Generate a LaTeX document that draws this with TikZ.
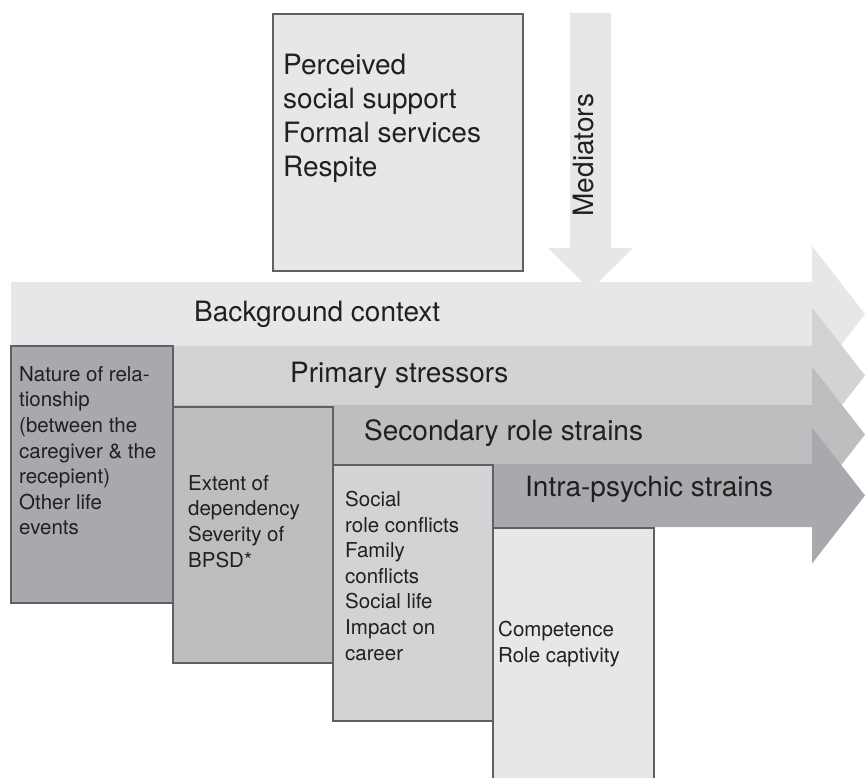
\documentclass[tikz,border=0pt]{standalone}
\usepackage{fontspec}
\setmainfont{TeX Gyre Heros}
\definecolor{gA}{HTML}{E6E7E8}
\definecolor{gB}{HTML}{D1D3D4}
\definecolor{gC}{HTML}{BCBEC0}
\definecolor{gD}{HTML}{A7A9AC}
\definecolor{edge}{HTML}{5F6062}
\definecolor{ink}{HTML}{231F20}
\tikzset{
  band/.style={draw=none},
  boxshape/.style={rectangle, draw=edge, line width=2pt, inner sep=0pt, anchor=north west},
  bigtext/.style={inner sep=0pt, align=left, text=ink, font=\fontsize{28}{34}\selectfont},
  smalltext/.style={inner sep=0pt, align=left, text=ink, font=\fontsize{20.5}{25.6}\selectfont},
  bandlabel/.style={inner sep=0pt, anchor=base west, text=ink, font=\fontsize{28}{34}\selectfont}
}
\begin{document}
\begin{tikzpicture}[x=1pt,y=-1pt]
\clip (0,0) rectangle (865,778);
\fill[white] (0,0) rectangle (865,778);
% mediators arrow
\fill[gA] (570,13) -- (611,13) -- (611,248) -- (633,248) -- (590.5,290) -- (548,248) -- (570,248) -- cycle;
\node[bigtext, rotate=90, anchor=base] (med) at (593,155) {Mediators};
% top box
\node[boxshape, fill=gA, minimum width=250pt, minimum height=257pt] (perc) at (272,13) {};
\node[bigtext, anchor=north west] (perct) at (283,54) {Perceived\\social support\\Formal services\\Respite};
% bands
\fill[gA] (11,282) -- (812,282) -- (812,246) -- (865,314) -- (812,382) -- (812,346) -- (11,346) -- cycle;
\fill[gB] (11,346) -- (812,346) -- (812,307.5) -- (865,375.5) -- (812,443.5) -- (812,405) -- (11,405) -- cycle;
\fill[gC] (11,405) -- (812,405) -- (812,366.5) -- (865,434.5) -- (812,502.5) -- (812,464) -- (11,464) -- cycle;
\fill[gD] (11,464) -- (812,464) -- (812,427.5) -- (865,495.5) -- (812,563.5) -- (812,527) -- (11,527) -- cycle;
\node[bandlabel] (bg) at (194,321) {Background context};
\node[bandlabel] (prim) at (290,382) {Primary stressors};
\node[bandlabel] (sec) at (364,440) {Secondary role strains};
\node[bandlabel] (intra) at (525,496) {Intra-psychic strains};
% boxes
\node[boxshape, fill=gD, minimum width=162pt, minimum height=257pt] (boxa) at (10,345) {};
\node[boxshape, fill=gC, minimum width=160pt, minimum height=256pt] (boxb) at (172,406) {};
\node[boxshape, fill=gB, minimum width=160pt, minimum height=256pt] (boxc) at (332,464) {};
\node[boxshape, fill=gA, minimum width=161pt, minimum height=263pt] (boxd) at (492,527) {};
\node[smalltext, anchor=north west] (ta) at (19,366) {Nature of rela-\\tionship\\(between the\\caregiver \& the\\recepient)\\Other life\\events};
\node[smalltext, anchor=north west] (tb) at (188,475) {Extent of\\dependency\\Severity of\\BPSD*};
\node[smalltext, anchor=north west] (tc) at (345,491) {Social\\role conflicts\\Family\\conflicts\\Social life\\Impact on\\career};
\node[smalltext, anchor=north west] (td) at (498,621) {Competence\\Role captivity};
\end{tikzpicture}
\end{document}
